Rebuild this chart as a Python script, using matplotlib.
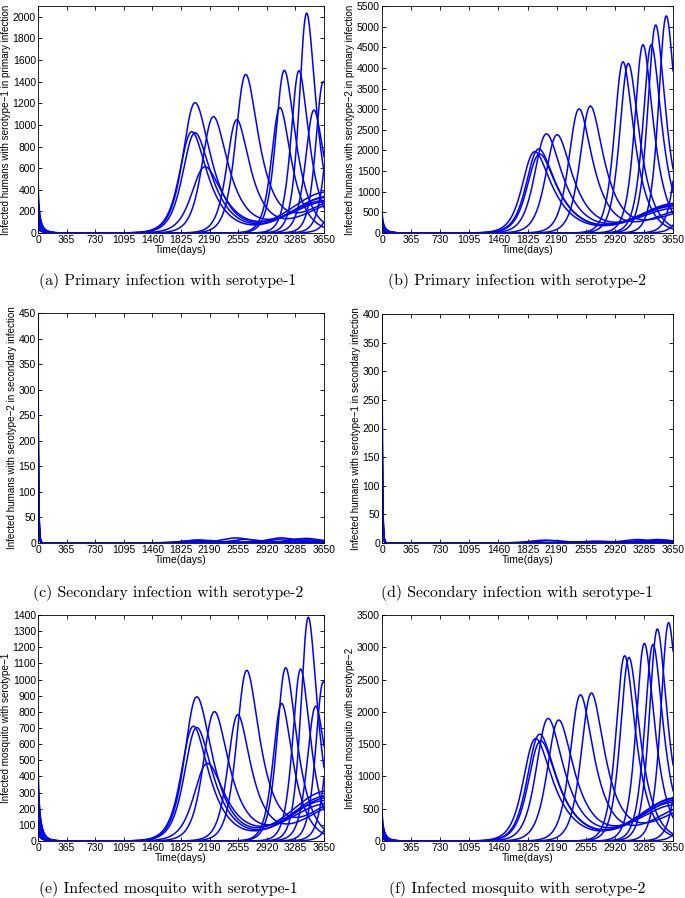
import numpy as np
import matplotlib.pyplot as plt

plt.rcParams['font.family'] = ['Liberation Sans', 'DejaVu Sans']

days = np.arange(0, 3651)
xticks = [0, 365, 730, 1095, 1460, 1825, 2190, 2555, 2920, 3285, 3650]

# run widths (days) shared by the serotype-1 panels (a, e) and serotype-2 panels (b, f)
sero1_rise = [112, 112, 112, 122, 102, 90, 90, 78, 78, 74, 70, 78, 70, 75, 80]
sero1_fall = [220, 220, 230, 250, 210, 190, 190, 160, 160, 140, 130, 150, 130, 140, 150]
sero1_wave_day = [3700, 3700, 3720, 3680, 3700, 3900, 3950, 4000, 4000, 4000, 4000, 4000, 4000, 4000, 4000]
sero2_rise = [105, 105, 105, 102, 98, 90, 90, 78, 78, 76, 76, 74, 72, 75, 80]
sero2_fall = [250, 250, 250, 230, 220, 190, 190, 150, 150, 140, 140, 135, 130, 140, 140]
sero2_wave_day = [3700, 3700, 3720, 3680, 3700, 3900, 3950, 4000, 4000, 4000, 4000, 4000, 4000, 4000, 4000]
# decay time of the starting infections, per run
start_tau = [22, 35, 45, 50, 55, 60, 65, 55, 50, 45, 60, 65, 40, 50, 55]

# (a) primary infection with serotype-1
a_start = [470, 330, 250, 200, 160, 130, 110, 90, 80, 70, 60, 50, 45, 40, 35]
a_peak_day = [2005, 1963, 2005, 2133, 2239, 2537, 2651, 3089, 3144, 3331, 3429, 3522, 3641, 3790, 3950]
a_peak = [1205, 937, 927, 612, 1075, 1045, 1462, 1160, 1505, 1502, 2034, 1137, 1400, 1500, 1500]
a_wave = [380, 330, 340, 300, 290, 290, 330, 0, 0, 0, 0, 0, 0, 0, 0]

# (b) primary infection with serotype-2
b_start = [510, 380, 300, 240, 190, 150, 120, 100, 80, 70, 60, 50, 45, 40, 35]
b_peak_day = [1917, 1967, 1979, 2063, 2197, 2472, 2614, 3023, 3090, 3274, 3378, 3433, 3566, 3800, 3950]
b_peak = [1972, 2037, 1915, 2400, 2378, 3003, 3068, 4148, 4107, 4562, 4562, 5040, 5260, 3500, 3000]
b_wave = [720, 700, 690, 650, 600, 600, 560, 0, 0, 0, 0, 0, 0, 0, 0]

# (c) secondary infection with serotype-2
c_start = [450, 400, 350, 300, 260, 200, 150, 120, 100, 80, 60, 50, 40]
c_peak_day = [2050, 2000, 2150, 2520, 2650, 3100, 3150, 3350, 3420, 3600, 3300, 2300, 2800]
c_peak = [6, 5, 4, 10, 7, 10, 8, 8, 9, 5, 4, 3, 3]

# (d) secondary infection with serotype-1
d_start = [400, 350, 300, 250, 200, 160, 120, 100, 80, 60, 50, 40, 30]
d_peak_day = [2050, 2100, 2650, 2750, 3200, 3250, 3450, 3500, 3650, 2400, 3000, 3350, 3550]
d_peak = [5, 4, 3, 3, 6, 4, 6, 5, 4, 2, 2, 3, 4]

# (e) infected mosquito with serotype-1
e_start = [500, 360, 280, 220, 170, 140, 110, 90, 80, 70, 60, 50, 45, 40, 35]
e_peak_day = [2027, 1984, 2027, 2163, 2252, 2550, 2664, 3110, 3161, 3352, 3450, 3544, 3641, 3800, 3960]
e_peak = [893, 711, 703, 480, 800, 780, 1053, 852, 1073, 1065, 1386, 835, 986, 1100, 1100]
e_wave = [310, 280, 270, 250, 230, 230, 260, 0, 0, 0, 0, 0, 0, 0, 0]

# (f) infected mosquito with serotype-2
f_start = [470, 350, 280, 220, 170, 140, 110, 90, 80, 70, 60, 50, 45, 40, 35]
f_peak_day = [1929, 1979, 1992, 2084, 2217, 2489, 2627, 3044, 3098, 3291, 3399, 3454, 3595, 3820, 3970]
f_peak = [1587, 1654, 1551, 1897, 1871, 2259, 2285, 2869, 2843, 3060, 3045, 3283, 3381, 2400, 2000]
f_wave = [670, 660, 640, 600, 560, 560, 520, 0, 0, 0, 0, 0, 0, 0, 0]


def pulse(t, day, height, rise, fall):
    # asymmetric epidemic pulse, peak moved onto `day` and scaled to `height`
    xs = np.log(fall / rise) * rise * fall / (rise + fall)
    x = t - day + xs
    s = 2.0 / (np.exp(-x / rise) + np.exp(x / fall))
    smax = 2.0 / (np.exp(-xs / rise) + np.exp(xs / fall))
    return height * s / smax


def runs(start, taus, peak_day, peak, rise, fall, wave=None, wave_day=None, wave_sd=450.0):
    out = []
    for i in range(len(start)):
        y = start[i] * np.exp(-days / taus[i])
        y = y + pulse(days, peak_day[i], peak[i], rise[i], fall[i])
        if wave is not None:
            y = y + wave[i] * np.exp(-0.5 * ((days - wave_day[i]) / wave_sd) ** 2)
        out.append(y)
    return out


fast_tau = [6, 7, 8, 8, 9, 9, 10, 10, 11, 11, 12, 12, 13]

panels = [
    (runs(a_start, start_tau, a_peak_day, a_peak, sero1_rise, sero1_fall, a_wave, sero1_wave_day),
     2100, 200, 'Infected humans with serotype\u22121 in primary infection',
     '(a) Primary infection with serotype-1'),
    (runs(b_start, start_tau, b_peak_day, b_peak, sero2_rise, sero2_fall, b_wave, sero2_wave_day),
     5500, 500, 'Infected humans with serotype\u22122 in primary infection',
     '(b) Primary infection with serotype-2'),
    (runs(c_start, fast_tau, c_peak_day, c_peak, [150] * 13, [200] * 13),
     450, 50, 'Infected humans with serotype\u22122 in secondary infection',
     '(c) Secondary infection with serotype-2'),
    (runs(d_start, fast_tau, d_peak_day, d_peak, [150] * 13, [200] * 13),
     400, 50, 'Infected humans with serotype\u22121 in secondary infection',
     '(d) Secondary infection with serotype-1'),
    (runs(e_start, start_tau, e_peak_day, e_peak, sero1_rise, sero1_fall, e_wave, sero1_wave_day),
     1400, 100, 'Infected mosquito with serotype\u22121',
     '(e) Infected mosquito with serotype-1'),
    (runs(f_start, start_tau, f_peak_day, f_peak, sero2_rise, sero2_fall, f_wave, sero2_wave_day),
     3500, 500, 'Infecteded mosquito with serotype\u22122',
     '(f) Infected mosquito with serotype-2'),
]

W, H = 685, 898
boxes = [(38, 6, 324, 233), (382, 6, 673, 233),
         (38, 313, 324, 543), (382, 314, 673, 543),
         (38, 615, 324, 841), (382, 615, 673, 841)]
cap_y = [281, 281, 593, 593, 889, 889]
cap_x = [168, 517, 168, 517, 168, 517]

fig = plt.figure(figsize=(W / 100, H / 100), dpi=100)
for k, (curves, ymax, ystep, ylab, cap) in enumerate(panels):
    l, t, r, b = boxes[k]
    ax = fig.add_axes([l / W, 1 - b / H, (r - l) / W, (b - t) / H])
    for y in curves:
        ax.plot(days, y, color='#0000ff', lw=1.1)
    ax.set_xlim(0, 3650)
    ax.set_ylim(0, ymax)
    ax.set_xticks(xticks)
    ax.set_yticks(np.arange(0, ymax + 1, ystep))
    ax.tick_params(direction='in', top=True, right=True, length=3, width=0.6,
                   labelsize=7.5, pad=1.5)
    for s in ax.spines.values():
        s.set_linewidth(0.6)
    ax.set_xlabel('Time(days)', fontsize=7.5, labelpad=0)
    ax.set_ylabel(ylab, fontsize=7.1, labelpad=1)
    fig.text(cap_x[k] / W, 1 - cap_y[k] / H, cap, family='cmr10', fontsize=11.3,
             ha='center', va='center')

fig.savefig('out.png', dpi=100)
